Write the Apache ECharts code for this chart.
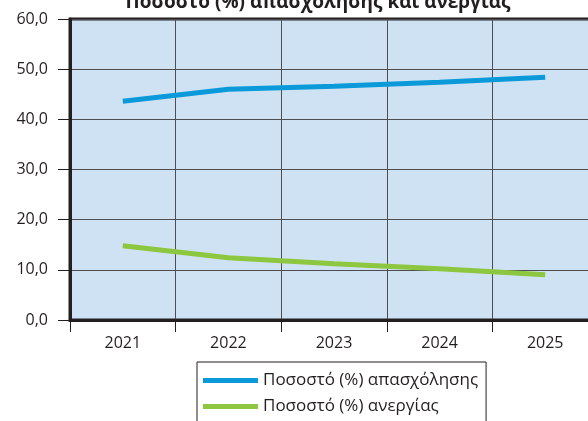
<!DOCTYPE html>
<html>
<head>
<meta charset="utf-8">
<script src="https://cdn.jsdelivr.net/npm/echarts@6/dist/echarts.min.js"></script>
<style>html,body{margin:0;padding:0;background:#fff;overflow:hidden;}#c{width:600px;height:421px;}</style>
</head>
<body>
<div id="c"></div>
<script>
var titleText = 'Ποσοστό (%) απασχόλησης και ανεργίας';
var years = ['2021', '2022', '2023', '2024', '2025'];
var employmentName = 'Ποσοστό (%) απασχόλησης';
var unemploymentName = 'Ποσοστό (%) ανεργίας';
var employment = [43.6, 46.0, 46.6, 47.4, 48.4];
var unemployment = [14.8, 12.4, 11.2, 10.2, 9.0];

var FONT = '"Open Sans", "Noto Sans", sans-serif';
var chart = echarts.init(document.getElementById('c'), null, {renderer: 'canvas'});
chart.setOption({
  animation: false,
  backgroundColor: '#ffffff',
  title: {
    text: titleText,
    left: 313, textAlign: 'center',
    top: -12,
    textStyle: {fontFamily: FONT, fontSize: 19, fontWeight: 'bold', color: '#231f20'}
  },
  grid: {
    left: 70, right: 2, top: 19, bottom: 101,
    outerBoundsMode: 'none',
    containLabel: false,
    show: true, backgroundColor: '#cfe2f3', borderColor: '#231f20', borderWidth: 3
  },
  legend: {
    orient: 'vertical',
    left: 197, top: 362,
    width: 300, height: 120,
    padding: [8, 8, 12, 6],
    itemGap: 5,
    itemWidth: 55, itemHeight: 5,
    icon: 'rect',
    borderColor: '#231f20', borderWidth: 1,
    textStyle: {fontFamily: FONT, fontSize: 17, color: '#231f20', lineHeight: 21},
    data: [employmentName, unemploymentName]
  },
  xAxis: {
    type: 'category',
    data: years,
    boundaryGap: true,
    axisLine: {show: true, lineStyle: {color: '#231f20', width: 3}},
    axisTick: {show: true, length: 12, lineStyle: {color: '#231f20', width: 1}},
    axisLabel: {fontFamily: FONT, fontSize: 16, color: '#231f20', margin: 15},
    splitLine: {show: true, lineStyle: {color: '#4d4d4f', width: 1}}
  },
  yAxis: {
    type: 'value',
    min: 0, max: 60, interval: 10,
    axisLine: {show: true, lineStyle: {color: '#231f20', width: 3}},
    axisTick: {show: true, length: 12, lineStyle: {color: '#231f20', width: 1}},
    axisLabel: {
      fontFamily: FONT, fontSize: 16, color: '#231f20', margin: 22,
      formatter: function (v) { return v.toFixed(1).replace('.', ','); }
    },
    splitLine: {show: true, lineStyle: {color: '#4d4d4f', width: 1}}
  },
  series: [
    {
      name: employmentName, type: 'line', data: employment,
      showSymbol: false, smooth: false,
      lineStyle: {color: '#0a9ad9', width: 5},
      itemStyle: {color: '#0a9ad9'}
    },
    {
      name: unemploymentName, type: 'line', data: unemployment,
      showSymbol: false, smooth: false,
      lineStyle: {color: '#8dc63f', width: 5},
      itemStyle: {color: '#8dc63f'}
    }
  ]
});
</script>
</body>
</html>
